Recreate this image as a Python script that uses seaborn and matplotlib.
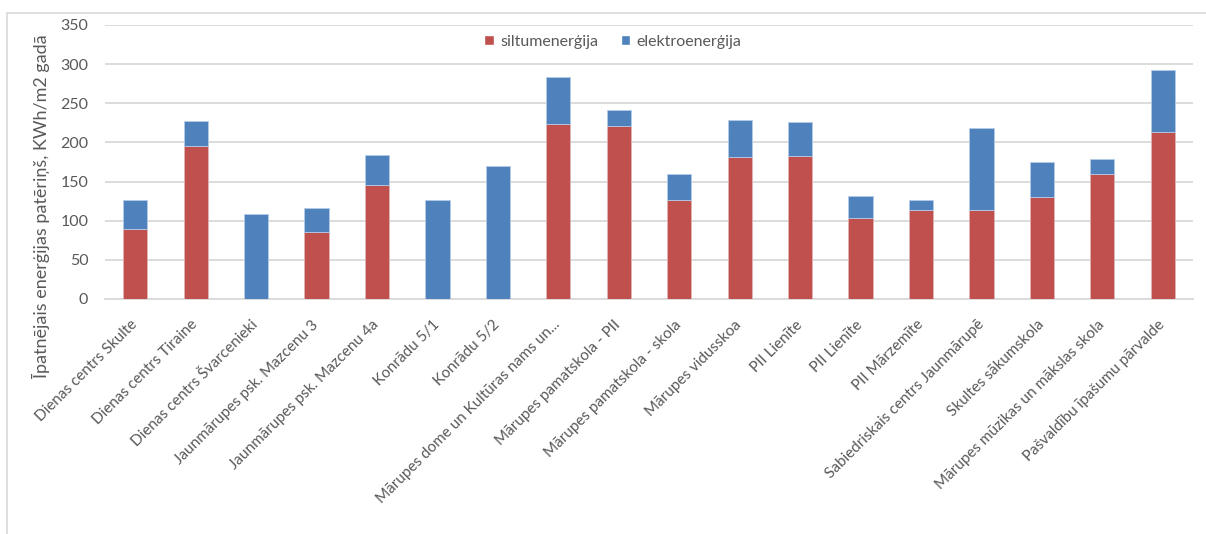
import matplotlib
matplotlib.use("Agg")
import matplotlib.pyplot as plt
import seaborn as sns
import pandas as pd
import numpy as np
from matplotlib.patches import Rectangle, Patch

categories = [
    "Dienas centrs Skulte", "Dienas centrs Tiraine", "Dienas centrs Švarcenieki",
    "Jaunmārupes psk. Mazcenu 3", "Jaunmārupes psk. Mazcenu 4a", "Konrādu 5/1",
    "Konrādu 5/2", "Mārupes dome un Kultūras nams un...", "Mārupes pamatskola - PII",
    "Mārupes pamatskola - skola", "Mārupes vidusskoa", "PII Lienīte", "PII Lienīte",
    "PII Mārzemīte", "Sabiedriskais centrs Jaunmārupē", "Skultes sākumskola",
    "Mārupes mūzikas un mākslas skola", "Pašvaldību īpašumu pārvalde",
]
siltum = [90, 195, 0, 86, 146, 0, 0, 224, 221, 127, 181, 183, 104, 114, 114, 130, 160, 213]
elektro = [37, 32, 108, 30, 38, 127, 170, 59, 21, 33, 48, 43, 28, 13, 104, 45, 19, 79]
y_ticks = [0, 50, 100, 150, 200, 250, 300, 350]

sns.set_theme(style="white")
plt.rcParams['font.family'] = ['Lato', 'DejaVu Sans']

RED = "#C0504D"
BLUE = "#4F81BD"
TXT = "#595959"

df = pd.DataFrame({"cat": [f"{i}" for i in range(len(categories))],
                   "siltum": siltum, "elektro": elektro})

W, H = 1206, 534
fig = plt.figure(figsize=(W / 100, H / 100), dpi=100)
ax = fig.add_axes([105 / W, 1 - 299 / H, 1088 / W, 274 / H])

sns.barplot(data=df, x="cat", y="siltum", color=RED, saturation=1, width=0.40,
            edgecolor="#e3b3b1", linewidth=0.6, ax=ax, zorder=3)
sns.barplot(data=df, x="cat", y="elektro", color=BLUE, saturation=1, width=0.40,
            bottom=np.array(siltum), edgecolor="#b5cbe6", linewidth=0.6, ax=ax, zorder=3)

ax.set_ylim(0, 350)
ax.set_xlim(-0.5, len(categories) - 0.5)
ax.set_yticks(y_ticks)
ax.set_yticklabels([str(v) for v in y_ticks], fontsize=11.5, color=TXT)
ax.set_xticks(range(len(categories)))
ax.set_xticklabels(categories, rotation=45, ha="right", va="center",
                   rotation_mode="anchor", fontsize=11, color=TXT)
ax.tick_params(axis="y", length=0, pad=12)
ax.tick_params(axis="x", length=0, pad=17)
ax.set_xlabel("")
ax.set_ylabel("")
ax.yaxis.grid(True, color="#D9D9D9", linewidth=1.3, zorder=0)
ax.set_axisbelow(True)
for s in ["top", "right", "left"]:
    ax.spines[s].set_visible(False)
ax.spines["bottom"].set_color("#D9D9D9")
ax.spines["bottom"].set_linewidth(1.3)

fig.text(41 / W, 1 - 206 / H, "Īpatnējais enerģijas patēriņš, KWh/m2 gadā",
         rotation=90, va="center", ha="center", fontsize=13, color=TXT)

handles = [Patch(facecolor=RED, label="siltumenerģija"),
           Patch(facecolor=BLUE, label="elektroenerģija")]
ax.legend(handles=handles, loc="center",
          bbox_to_anchor=((613 - 105) / 1088, (299 - 42) / 274),
          ncol=2, frameon=False, fontsize=11.5, handlelength=0.6, handleheight=0.6,
          handletextpad=0.4, columnspacing=1.4, labelcolor=TXT)

fig.patches.append(Rectangle((7 / W, -0.05), 1.1, 1 - 13 / H + 0.05,
                             transform=fig.transFigure, fill=False,
                             edgecolor="#D9D9D9", linewidth=1.2, zorder=0))

fig.savefig("out.png", dpi=100, facecolor="white")
